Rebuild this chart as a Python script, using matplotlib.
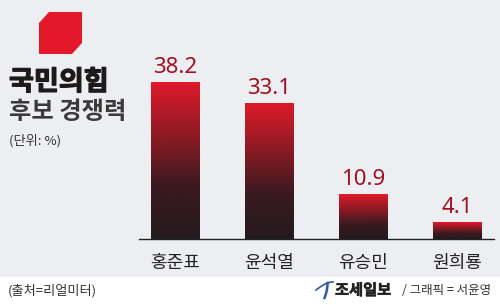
import matplotlib
matplotlib.use("Agg")
import matplotlib.pyplot as plt
import matplotlib.patheffects as pe
import numpy as np
from matplotlib.patches import Polygon, Rectangle
from matplotlib.lines import Line2D
from matplotlib.colors import LinearSegmentedColormap

plt.rcParams['font.family'] = ['Noto Sans CJK KR', 'DejaVu Sans']

categories = ['홍준표', '윤석열', '유승민', '원희룡']
values = [38.2, 33.1, 10.9, 4.1]
value_labels = ['38.2', '33.1', '10.9', '4.1']

W, H = 500, 305
fig = plt.figure(figsize=(W/100, H/100), dpi=100)
fig.patch.set_facecolor('#eceef2')

# footer white band
fig.add_artist(Rectangle((0, 0), 1, 28/H, transform=fig.transFigure,
                         facecolor='white', edgecolor='none', zorder=0))

# axes: x 139..494 px, bottom at y=239 px from top
ax_left, ax_right = 139, 494
ax_bottom = H - 239
ax_top = H - 0
ax = fig.add_axes([ax_left/W, ax_bottom/H, (ax_right-ax_left)/W, (ax_top-ax_bottom)/H])
ax.set_facecolor('none')
px_per_unit_y = 157/38.2
px_per_unit_x = 94.0
x0 = (175.5 - ax_left)/px_per_unit_x
for s in ['top', 'right', 'left']:
    ax.spines[s].set_visible(False)
ax.spines['bottom'].set_color('#222222')
ax.spines['bottom'].set_linewidth(1.0)
ax.set_yticks([])
ax.set_xticks([])

cmap = LinearSegmentedColormap.from_list('rg', ['#231a1e', '#3a1a20', '#8e1a24', '#e01b2b'])
xs = np.arange(len(categories))
bars = ax.bar(xs, values, width=0.52, color='none', edgecolor='none')
grad = np.linspace(0, 1, 256).reshape(-1, 1)
for b, v in zip(bars, values):
    x, w = b.get_x(), b.get_width()
    im = ax.imshow(grad, cmap=cmap, origin='lower', aspect='auto',
                   extent=[x, x + w, 0, v], zorder=2)
    im.set_clip_path(b)
ax.set_xlim(-x0, -x0 + (ax_right-ax_left)/px_per_unit_x)
ax.set_ylim(0, (ax_top-ax_bottom)/px_per_unit_y)

for xi, v, lab in zip(xs, values, value_labels):
    ax.annotate(lab, (xi, v), xytext=(0, 3), textcoords='offset points',
                ha='center', va='bottom', fontsize=16, color='#a01020',
                family=['Noto Sans', 'DejaVu Sans'])
for xi, c in zip(xs, categories):
    ax.annotate(c, (xi, 0), xytext=(0, -11), textcoords='offset points',
                ha='center', va='top', fontsize=13, color='#222222')

# red logo polygon
pts = [(49, 12), (82, 12), (82, 43), (72, 54), (39, 54), (39, 23)]
fig.add_artist(Polygon([(px/W, 1 - py/H) for px, py in pts], closed=True,
                       transform=fig.transFigure, facecolor='#e3182a', edgecolor='none'))

fig.text(9/W, 1 - 82/H, '국민의힘', fontsize=19.5, fontweight='heavy', color='#1e1a1b', va='center', ha='left',
         path_effects=[pe.withStroke(linewidth=0.9, foreground='#1e1a1b')])
fig.text(9/W, 1 - 112/H, '후보 경쟁력', fontsize=17.5, fontweight='bold', color='#3a3a3a', va='center', ha='left')
fig.text(9/W, 1 - 141/H, '(단위: %)', fontsize=9.5, color='#333333', va='center', ha='left')

fig.text(8/W, 1 - 291/H, '(출처=리얼미터)', fontsize=9.5, color='#333333', va='center', ha='left')

# footer logo mark
t = np.linspace(0, 1, 30)
fig.add_artist(Line2D((316 + 17*t)/W, 1 - (290 - 8*np.sin(t*np.pi/2))/H,
                      transform=fig.transFigure, color='#2a5ca8', lw=1.2))
fig.add_artist(Line2D((327.5 - 3*t**2)/W, 1 - (283 + 15*t)/H,
                      transform=fig.transFigure, color='#2a5ca8', lw=1.8))
fig.text(335/W, 1 - 290/H, '조세일보', fontsize=11, fontweight='heavy', color='#222222', va='center', ha='left',
         path_effects=[pe.withStroke(linewidth=0.4, foreground='#222222')])
fig.text(491/W, 1 - 291/H, '/ 그래픽 = 서윤영', fontsize=9, color='#333333', va='center', ha='right')

fig.savefig('out.png', dpi=100, facecolor=fig.get_facecolor())
